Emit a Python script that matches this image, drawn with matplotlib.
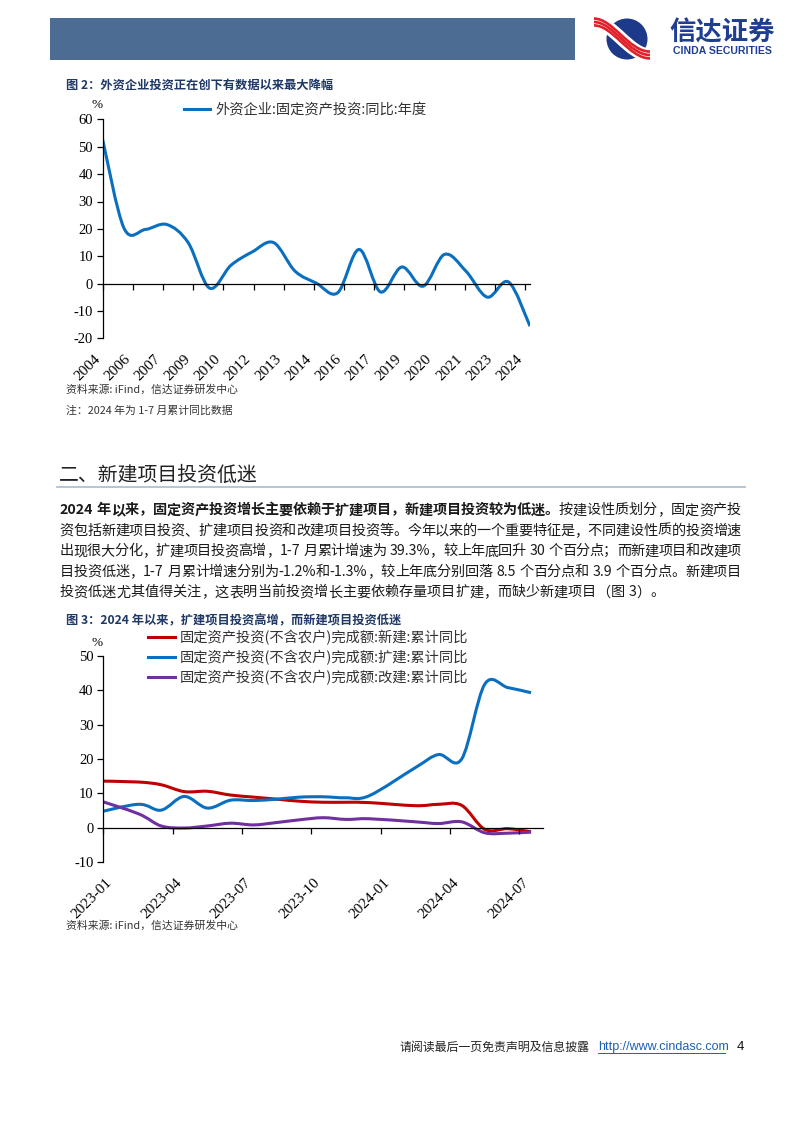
import re
import numpy as np
import matplotlib
matplotlib.use('Agg')
import matplotlib.pyplot as plt
from matplotlib.path import Path
from matplotlib.patches import PathPatch, Rectangle, Circle
from matplotlib.lines import Line2D
from matplotlib.font_manager import FontProperties

W, H = 802, 1133
CJK = ['Noto Sans CJK SC', 'DejaVu Sans']
SERIF = ['Liberation Serif', 'DejaVu Serif']
SANS = ['Liberation Sans', 'DejaVu Sans']
plt.rcParams['font.family'] = CJK

# ---------------- data: figure 2 ----------------
fdi_years = ['2004', '2005', '2006', '2007', '2008', '2009', '2010', '2011', '2012', '2013',
             '2014', '2015', '2016', '2017', '2018', '2019', '2020', '2021', '2022', '2023', '2024']
fdi_yoy = [52.5, 20.2, 19.8, 21.6, 15.0, -1.6, 6.7, 11.6, 15.0, 4.6,
           0.2, -3.3, 12.5, -3.0, 6.1, -0.9, 10.7, 4.6, -4.9, 0.6, -15.5]
fdi_tick_labels = ['2004', '2006', '2007', '2009', '2010', '2012', '2013', '2014',
                   '2016', '2017', '2019', '2020', '2021', '2023', '2024']
fdi_series = '外资企业:固定资产投资:同比:年度'
fdi_yticks = [-20, -10, 0, 10, 20, 30, 40, 50, 60]

# ---------------- data: figure 3 ----------------
months = ['2022-12', '2023-02', '2023-03', '2023-04', '2023-05', '2023-06', '2023-07',
          '2023-08', '2023-09', '2023-10', '2023-11', '2023-12', '2024-02', '2024-03',
          '2024-04', '2024-05', '2024-06', '2024-07']
new_yoy = [13.6, 13.3, 12.5, 10.5, 10.6, 9.5, 8.9, 8.3, 7.7, 7.4, 7.4, 7.3,
           6.4, 6.8, 6.5, -0.5, -0.3, -1.2]
exp_yoy = [4.0, 6.8, 5.1, 9.1, 5.7, 8.0, 7.9, 8.3, 8.9, 9.0, 8.7, 9.3,
           17.5, 21.3, 20.0, 41.8, 40.8, 39.3]
ren_yoy = [8.6, 4.1, 0.5, -0.1, 0.5, 1.3, 0.8, 1.5, 2.3, 2.9, 2.4, 2.6,
           1.7, 1.2, 1.7, -1.5, -1.6, -1.3]
inv_series = ['固定资产投资(不含农户)完成额:新建:累计同比',
              '固定资产投资(不含农户)完成额:扩建:累计同比',
              '固定资产投资(不含农户)完成额:改建:累计同比']
inv_tick_labels = ['2023-01', '2023-04', '2023-07', '2023-10', '2024-01', '2024-04', '2024-07']
inv_yticks = [-10, 0, 10, 20, 30, 40, 50]

# ---------------- text ----------------
header_cn = '信达证券'
header_en = 'CINDA SECURITIES'
cap2 = '图 2：外资企业投资正在创下有数据以来最大降幅'
cap3 = '图 3：2024 年以来，扩建项目投资高增，而新建项目投资低迷'
source = '资料来源: iFind，信达证券研发中心'
note = '注：2024 年为 1-7 月累计同比数据'
heading = '二、新建项目投资低迷'
para_lines = [
    [('2024 年以来，固定资产投资增长主要依赖于扩建项目，新建项目投资较为低迷。', 'bold'),
     ('按建设性质划分，固定资产投', 'normal')],
    [('资包括新建项目投资、扩建项目投资和改建项目投资等。今年以来的一个重要特征是，不同建设性质的投资增速', 'normal')],
    [('出现很大分化，扩建项目投资高增，1-7 月累计增速为 39.3%，较上年底回升 30 个百分点；而新建项目和改建项', 'normal')],
    [('目投资低迷，1-7 月累计增速分别为-1.2%和-1.3%，较上年底分别回落 8.5 个百分点和 3.9 个百分点。新建项目', 'normal')],
    [('投资低迷尤其值得关注，这表明当前投资增长主要依赖存量项目扩建，而缺少新建项目（图 3）。', 'normal')],
]
footer = '请阅读最后一页免责声明及信息披露'
footer_url = 'http://www.cindasc.com'
page_no = '4'

BLUE = '#0a6fbf'
RED = '#c00000'
PURPLE = '#7030a0'
NAVY = '#1f3864'
TXT = '#1a1a1a'

fig = plt.figure(figsize=(W / 100, H / 100), dpi=100)
fig.patch.set_facecolor('white')


def fx(x):
    return x / W


def fy(y):
    return 1 - y / H


def smooth_path(x, y):
    x = np.asarray(x, float)
    y = np.asarray(y, float)
    n = len(x)
    verts = [(x[0], y[0])]
    codes = [Path.MOVETO]
    for i in range(n - 1):
        xa, ya = (x[i - 1], y[i - 1]) if i > 0 else (x[i], y[i])
        xd, yd = (x[i + 2], y[i + 2]) if i + 2 < n else (x[i + 1], y[i + 1])
        c1 = (x[i] + (x[i + 1] - xa) / 6.0, y[i] + (y[i + 1] - ya) / 6.0)
        c2 = (x[i + 1] - (xd - x[i]) / 6.0, y[i + 1] - (yd - y[i]) / 6.0)
        verts += [c1, c2, (x[i + 1], y[i + 1])]
        codes += [Path.CURVE4] * 3
    return Path(verts, codes)


def add_smooth(ax, x, y, color, lw=2.2):
    patch = PathPatch(smooth_path(x, y), facecolor='none', edgecolor=color, lw=lw,
                      joinstyle='round', capstyle='butt')
    ax.add_patch(patch)


# ---------------- header ----------------
fig.patches.append(Rectangle((fx(50), fy(60)), fx(575) - fx(50), fy(18) - fy(60),
                             transform=fig.transFigure, facecolor='#4d6c93', edgecolor='none'))
lax = fig.add_axes([fx(585), fy(62), 70 / W, 46 / H])
lax.set_xlim(0, 70)
lax.set_ylim(0, 46)
lax.axis('off')
lax.add_patch(Circle((42, 23), 20.5, facecolor='#1d3a8a', edgecolor='none'))
for off, col, lw in [(0, 'white', 9.5)] + [(d, '#e0202a', 1.9) for d in (-3.4, 0, 3.4)]:
    p = Path([(9, 40 + off), (28, 40 + off), (44, 7 + off), (65, 7 + off)],
             [Path.MOVETO, Path.CURVE4, Path.CURVE4, Path.CURVE4])
    lax.add_patch(PathPatch(p, facecolor='none', edgecolor=col, lw=lw, capstyle='butt'))
fig.text(fx(722), fy(33), header_cn, ha='center', va='center', fontsize=19,
         fontweight='bold', color='#1f3e93', family=CJK)
fig.text(fx(722), fy(51.5), header_en, ha='center', va='center', fontsize=7.6,
         fontweight='bold', color='#1f3e93', family=SANS)

# ---------------- figure 2 ----------------
fig.text(fx(66), fy(85), cap2, ha='left', va='center', fontsize=8.8, fontweight='bold',
         color=NAVY, family=CJK)

ax1 = fig.add_axes([fx(102.7), fy(338.5), (530 - 102.7) / W, (338.5 - 119.3) / H])
x1 = np.array([int(y) for y in fdi_years]) - int(fdi_years[0])
add_smooth(ax1, x1, fdi_yoy, BLUE)
ax1.set_xlim(x1[0], x1[-1])
ax1.set_ylim(fdi_yticks[0], fdi_yticks[-1])
ax1.set_yticks(fdi_yticks)
ax1.set_yticklabels([str(v) for v in fdi_yticks], family=SERIF, fontsize=10.5)
tick_step1 = 1.412
ticks1 = np.arange(len(fdi_tick_labels)) * tick_step1
ax1.set_xticks(ticks1)
ax1.tick_params(axis='x', direction='out', length=4, width=0.9, labelbottom=False)
ax1.tick_params(axis='y', direction='out', length=4, width=0.9, pad=3)
ax1.spines['bottom'].set_position(('data', 0))
for s in ('top', 'right'):
    ax1.spines[s].set_visible(False)
for s in ('left', 'bottom'):
    ax1.spines[s].set_linewidth(0.9)
sec1 = ax1.secondary_xaxis(0)
sec1.spines['bottom'].set_visible(False)
sec1.set_xticks(ticks1)
sec1.set_xticklabels(fdi_tick_labels, rotation=45, ha='right', va='top', family=SERIF,
                     fontsize=11)
sec1.tick_params(length=0, pad=10)
ax1.patch.set_alpha(0)
ax1.legend(handles=[Line2D([], [], color=BLUE, lw=2.2)], labels=[fdi_series],
           loc='center left', bbox_to_anchor=(fx(184), fy(110)), bbox_transform=fig.transFigure,
           frameon=False, borderpad=0, borderaxespad=0, handlelength=1.82, handletextpad=0.35,
           prop=FontProperties(family=CJK, size=10.3), labelcolor='#333333')
fig.text(fx(97), fy(105), '%', ha='center', va='center', fontsize=9.5, family=SERIF)

fig.text(fx(66), fy(389.5), source, ha='left', va='center', fontsize=7.8, style='italic',
         color='#333333', family=CJK)
fig.text(fx(66), fy(411), note, ha='left', va='center', fontsize=7.8, style='italic',
         color='#333333', family=CJK)

# ---------------- heading and paragraph ----------------
fig.text(fx(59), fy(480.5), heading, ha='left', va='baseline', fontsize=14.3,
         color='#222222', family=CJK)
fig.add_artist(Line2D([fx(57), fx(745)], [fy(486.5), fy(486.5)], transform=fig.transFigure,
                      color='#b4c0cf', lw=1.3))

renderer = fig.canvas.get_renderer()
BODY_SIZE = 10.2
x_left, x_right = 59.5, 741.0
line_centers = [509, 529.5, 550, 570.5, 591]
for li, segs in enumerate(para_lines):
    tokens = []
    for s, w in segs:
        for t in re.findall(r'[A-Za-z0-9.%\-]+|.', s):
            tokens.append((t, w))
    widths = []
    props = []
    for t, w in tokens:
        fp = FontProperties(family=CJK, size=BODY_SIZE, weight=w)
        props.append(fp)
        if t == ' ':
            widths.append(0.28 * BODY_SIZE * 100 / 72)
        else:
            widths.append(renderer.get_text_width_height_descent(t, fp, ismath=False)[0])
    total = sum(widths)
    last = li == len(para_lines) - 1
    gap = 0 if last else (x_right - x_left - total) / (len(tokens) - 1)
    xc = x_left
    base = line_centers[li] + 5.3
    for (t, w), wd, fp in zip(tokens, widths, props):
        if t != ' ':
            fig.text(fx(xc), fy(base), t, ha='left', va='baseline', fontproperties=fp, color=TXT)
        xc += wd + gap

# ---------------- figure 3 ----------------
fig.text(fx(66), fy(621), cap3, ha='left', va='center', fontsize=8.8, fontweight='bold',
         color=NAVY, family=CJK)


def month_pos(m):
    yr, mo = int(m[:4]), int(m[5:7])
    return (yr - 2023) * 12 + (mo - 1)


ax2 = fig.add_axes([fx(103.3), fy(862), (542.6 - 103.3) / W, (862 - 656) / H])
x2 = np.array([month_pos(m) for m in months]) + 0.5
for vals, col in [(new_yoy, RED), (exp_yoy, BLUE), (ren_yoy, PURPLE)]:
    add_smooth(ax2, x2, vals, col)
ax2.set_xlim(month_pos(inv_tick_labels[0]), month_pos(inv_tick_labels[-1]) + 1)
ax2.set_ylim(inv_yticks[0], inv_yticks[-1])
ax2.set_yticks(inv_yticks)
ax2.set_yticklabels([str(v) for v in inv_yticks], family=SERIF, fontsize=10.5)
ticks2 = np.array([month_pos(m) for m in inv_tick_labels])
ax2.set_xticks(ticks2)
ax2.tick_params(axis='x', direction='out', length=4, width=0.9, labelbottom=False)
ax2.tick_params(axis='y', direction='out', length=4, width=0.9, pad=3)
ax2.spines['bottom'].set_position(('data', 0))
for s in ('top', 'right'):
    ax2.spines[s].set_visible(False)
for s in ('left', 'bottom'):
    ax2.spines[s].set_linewidth(0.9)
sec2 = ax2.secondary_xaxis(0)
sec2.spines['bottom'].set_visible(False)
sec2.set_xticks(ticks2 + 0.5)
sec2.set_xticklabels(inv_tick_labels, rotation=45, ha='right', va='top', family=SERIF,
                     fontsize=11)
sec2.tick_params(length=0, pad=10)
ax2.patch.set_alpha(0)
ax2.legend(handles=[Line2D([], [], color=c, lw=2.2) for c in (RED, BLUE, PURPLE)],
           labels=inv_series, loc='center left', bbox_to_anchor=(fx(148), fy(657.5)),
           bbox_transform=fig.transFigure, frameon=False, borderpad=0, borderaxespad=0,
           handlelength=1.9, handletextpad=0.3, labelspacing=0.33,
           prop=FontProperties(family=CJK, size=10.3), labelcolor='#333333')
fig.text(fx(97), fy(643), '%', ha='center', va='center', fontsize=9.5, family=SERIF)
fig.text(fx(66), fy(925.5), source, ha='left', va='center', fontsize=7.8, style='italic',
         color='#333333', family=CJK)

# ---------------- footer ----------------
fig.text(fx(400), fy(1047), footer, ha='left', va='center', fontsize=8.6, color='#222222',
         family=CJK)
fig.text(fx(598), fy(1047), footer_url, ha='left', va='center', fontsize=9,
         color='#1f5fb4', family=SANS)
fig.add_artist(Line2D([fx(598), fx(725)], [fy(1052.5), fy(1052.5)], transform=fig.transFigure,
                      color='#1f5fb4', lw=0.7))
fig.text(fx(740), fy(1047), page_no, ha='center', va='center', fontsize=9.5, color='#111111',
         family=SANS)

fig.savefig('out.png', dpi=100, facecolor='white')
